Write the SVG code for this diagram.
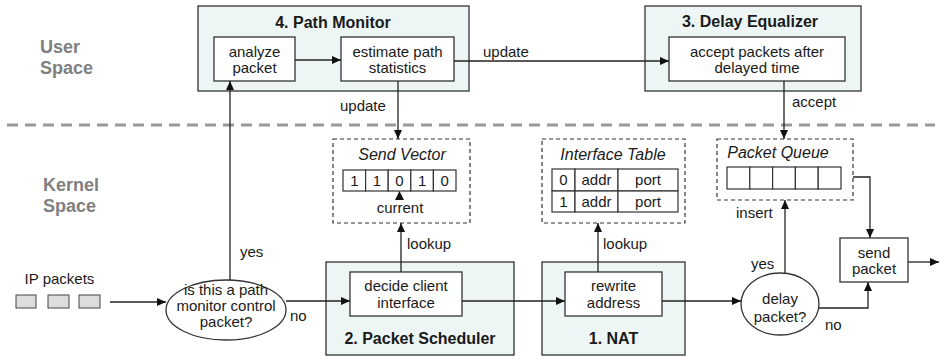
<svg xmlns="http://www.w3.org/2000/svg" width="940" height="357" viewBox="0 0 940 357">
<style>
text{font-family:"Liberation Sans",Arial,sans-serif;fill:#1a1a1a;font-size:15px}
.c{text-anchor:middle}
.t{font-weight:bold;font-size:16px;text-anchor:middle}
.it{font-style:italic;font-size:16px;text-anchor:middle}
.sp{font-weight:bold;font-size:18px;fill:#808080}
.outer{fill:#edf6f5;stroke:#333;stroke-width:1.3}
.box{fill:#fff;stroke:#333;stroke-width:1.3}
.dash{fill:#fff;stroke:#333;stroke-width:1.2;stroke-dasharray:4 3}
.cell{fill:#fff;stroke:#333;stroke-width:1.2}
.pkt{fill:#ddd;stroke:#444;stroke-width:1}
.ln{fill:none;stroke:#222;stroke-width:1.3;marker-end:url(#ah)}
</style>
<defs>
<marker id="ah" markerUnits="userSpaceOnUse" markerWidth="10" markerHeight="10" refX="9" refY="4" orient="auto">
<path d="M0,0 L9,4 L0,8 Z" fill="#111"/>
</marker>
</defs>

<line x1="7" y1="125" x2="935" y2="125" stroke="#999" stroke-width="3" stroke-dasharray="11 7"/>
<text class="sp" x="40" y="53">User</text>
<text class="sp" x="40" y="74">Space</text>
<text class="sp" x="43" y="191">Kernel</text>
<text class="sp" x="43" y="212">Space</text>

<g id="path-monitor">
<rect class="outer" x="198" y="6" width="271" height="85"/>
<text class="t" x="333" y="28">4. Path Monitor</text>
</g>
<g id="analyze-packet">
<rect class="box" x="214" y="37" width="81" height="44"/>
<text class="c" x="254.5" y="57">analyze</text>
<text class="c" x="254.5" y="73">packet</text>
</g>
<g id="estimate-path">
<rect class="box" x="341" y="37" width="113" height="44"/>
<text class="c" x="397.5" y="57">estimate path</text>
<text class="c" x="397.5" y="73">statistics</text>
</g>

<g id="delay-equalizer">
<rect class="outer" x="645" y="6" width="216" height="85"/>
<text class="t" x="750" y="27">3. Delay Equalizer</text>
</g>
<g id="accept-packets">
<rect class="box" x="669" y="37" width="176" height="44"/>
<text class="c" x="757" y="57">accept packets after</text>
<text class="c" x="757" y="73">delayed time</text>
</g>

<g id="send-vector">
<rect class="dash" x="333" y="139" width="137" height="84"/>
<text class="it" x="402" y="160">Send Vector</text>
<rect class="cell" x="343" y="170" width="22.6" height="21"/>
<rect class="cell" x="365.6" y="170" width="22.6" height="21"/>
<rect class="cell" x="388.2" y="170" width="22.6" height="21"/>
<rect class="cell" x="410.8" y="170" width="22.6" height="21"/>
<rect class="cell" x="433.4" y="170" width="22.6" height="21"/>
<text class="c" x="354.3" y="186">1</text>
<text class="c" x="376.9" y="186">1</text>
<text class="c" x="399.5" y="186">0</text>
<text class="c" x="422.1" y="186">1</text>
<text class="c" x="444.7" y="186">0</text>
<path d="M399.5,191 L404,200 L395,200 Z" fill="#111"/>
<text class="c" x="400" y="213">current</text>
</g>

<g id="interface-table">
<rect class="dash" x="542" y="139" width="143" height="84"/>
<text class="it" x="613" y="160">Interface Table</text>
<rect class="cell" x="552" y="169" width="23" height="22"/>
<rect class="cell" x="575" y="169" width="43" height="22"/>
<rect class="cell" x="618" y="169" width="60" height="22"/>
<rect class="cell" x="552" y="191" width="23" height="21"/>
<rect class="cell" x="575" y="191" width="43" height="21"/>
<rect class="cell" x="618" y="191" width="60" height="21"/>
<text class="c" x="563.5" y="185">0</text>
<text class="c" x="596.5" y="185">addr</text>
<text class="c" x="648" y="185">port</text>
<text class="c" x="563.5" y="207">1</text>
<text class="c" x="596.5" y="207">addr</text>
<text class="c" x="648" y="207">port</text>
</g>

<g id="packet-queue">
<rect class="dash" x="717" y="139" width="136" height="61"/>
<text class="it" x="778" y="158">Packet Queue</text>
<rect class="cell" x="727" y="167" width="22.8" height="22"/>
<rect class="cell" x="749.8" y="167" width="22.8" height="22"/>
<rect class="cell" x="772.6" y="167" width="22.8" height="22"/>
<rect class="cell" x="795.4" y="167" width="22.8" height="22"/>
<rect class="cell" x="818.2" y="167" width="22.8" height="22"/>
</g>

<g id="ip-packets">
<text class="c" x="59.5" y="284">IP packets</text>
<rect class="pkt" x="16" y="295" width="20" height="13"/>
<rect class="pkt" x="48" y="295" width="21" height="13"/>
<rect class="pkt" x="79" y="295" width="21" height="13"/>
</g>

<g id="control-check">
<ellipse cx="226" cy="310" rx="60" ry="30" fill="#fff" stroke="#333" stroke-width="1.3"/>
<text class="c" x="226" y="295">is this a path</text>
<text class="c" x="226" y="311">monitor control</text>
<text class="c" x="226" y="327">packet?</text>
</g>

<g id="packet-scheduler">
<rect class="outer" x="326" y="262" width="188" height="93"/>
<text class="t" x="420" y="344">2. Packet Scheduler</text>
</g>
<g id="decide-client">
<rect class="box" x="350" y="272" width="112" height="44"/>
<text class="c" x="406" y="291">decide client</text>
<text class="c" x="406" y="308">interface</text>
</g>

<g id="nat">
<rect class="outer" x="542" y="262" width="143" height="93"/>
<text class="t" x="613.5" y="344">1. NAT</text>
</g>
<g id="rewrite-address">
<rect class="box" x="565" y="272" width="97" height="44"/>
<text class="c" x="613.5" y="291">rewrite</text>
<text class="c" x="613.5" y="308">address</text>
</g>

<g id="delay-check">
<ellipse cx="780" cy="304" rx="39" ry="31" fill="#fff" stroke="#333" stroke-width="1.3"/>
<text class="c" x="780" y="304">delay</text>
<text class="c" x="780" y="322">packet?</text>
</g>

<g id="send-packet">
<rect class="box" x="840" y="238" width="68" height="44"/>
<text class="c" x="874" y="258">send</text>
<text class="c" x="874" y="274">packet</text>
</g>

<g id="connectors">
<path class="ln" d="M295,60 H341"/>
<path class="ln" d="M454,61 H669"/>
<text x="483" y="57">update</text>
<path class="ln" d="M398,81 V139"/>
<text x="340" y="111">update</text>
<path class="ln" d="M784,81 V139"/>
<text x="792" y="107">accept</text>
<path class="ln" d="M230,280 V81"/>
<text x="240" y="257">yes</text>
<path class="ln" d="M110,302 H166"/>
<path class="ln" d="M286,301 H350"/>
<text x="290" y="321">no</text>
<path class="ln" d="M401,272 V223"/>
<text x="407" y="249">lookup</text>
<path class="ln" d="M462,301 H565"/>
<path class="ln" d="M598,272 V223"/>
<text x="603" y="249">lookup</text>
<path class="ln" d="M662,301 H741"/>
<path class="ln" d="M785,273 V200"/>
<text x="736" y="218">insert</text>
<path class="ln" d="M819,308 H868 V282"/>
<text x="751" y="269">yes</text>
<text x="825" y="330">no</text>
<path class="ln" d="M853,177 H870 V238"/>
<path class="ln" d="M908,262 H939"/>
</g>
</svg>
